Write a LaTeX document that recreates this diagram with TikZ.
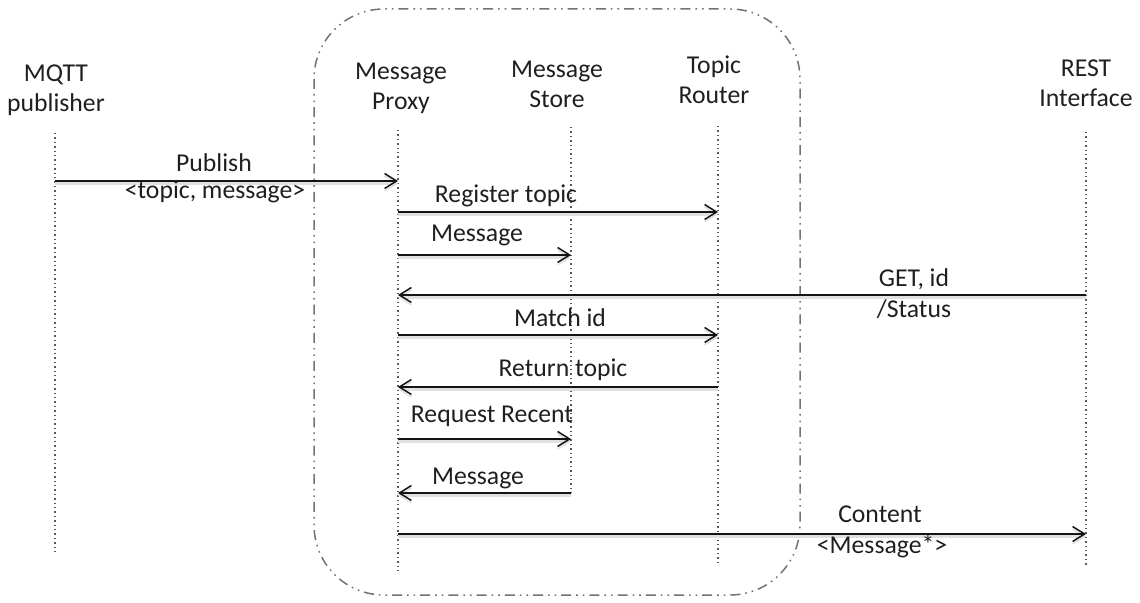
\documentclass[tikz,border=0pt]{standalone}
\usepackage{fontspec}
\setmainfont{Carlito}
\usetikzlibrary{arrows.meta}
\begin{document}
\begin{tikzpicture}[x=0.5pt,y=-0.5pt,
  lbl/.style={font=\fontsize{12.85}{15}\selectfont, inner sep=0pt, text=black!88, anchor=base},
  head/.style={lbl, align=center},
  life/.style={draw=black!65, line width=0.7pt, dash pattern=on 0.7pt off 1.5pt},
  msg/.style={draw=black!92, line width=0.75pt,
    -{Straight Barb[length=6pt,width=7.5pt,line width=0.75pt]},
    preaction={draw=black!12, line width=1.6pt, transform canvas={yshift=-1.2pt}}},
  frame/.style={draw=black!55, line width=0.75pt, rounded corners=35pt,
    dash pattern=on 5pt off 2.5pt on 0.8pt off 2.5pt on 0.8pt off 2.5pt}]
\useasboundingbox (0,0) rectangle (1140,603);

% boundary of the proxy subsystem
\draw[frame] (314,9) rectangle (800,595);

% headers (anchor = baseline of the last line)
\node[head] (hmqtt)   at (56,112)   {MQTT\\publisher};
\node[head] (hproxy)  at (401,110)  {Message\\Proxy};
\node[head] (hstore)  at (557,108)  {Message\\Store};
\node[head] (hrouter) at (714,104)  {Topic\\Router};
\node[head] (hrest)   at (1086,107) {REST\\Interface};

% lifelines
\coordinate (mqtt)   at (55,133);   \coordinate (mqttE)   at (55,555);
\coordinate (proxy)  at (398,130);  \coordinate (proxyE)  at (398,572);
\coordinate (store)  at (571,127);  \coordinate (storeE)  at (571,493);
\coordinate (router) at (718,126);  \coordinate (routerE) at (718,565);
\coordinate (rest)   at (1086,132); \coordinate (restE)   at (1086,567);
\draw[life] (mqtt) -- (mqttE);
\draw[life] (proxy) -- (proxyE);
\draw[life] (store) -- (storeE);
\draw[life] (router) -- (routerE);
\draw[life] (rest) -- (restE);

% message levels
\coordinate (m1) at (0,181);
\coordinate (m2) at (0,212);
\coordinate (m3) at (0,255);
\coordinate (m4) at (0,295);
\coordinate (m5) at (0,335);
\coordinate (m6) at (0,387);
\coordinate (m7) at (0,439);
\coordinate (m8) at (0,493);
\coordinate (m9) at (0,534);

\draw[msg] (mqtt |- m1) -- (proxy |- m1);
\draw[msg] (proxy |- m2) -- (router |- m2);
\draw[msg] (proxy |- m3) -- (store |- m3);
\draw[msg] (rest |- m4) -- (proxy |- m4);
\draw[msg] (proxy |- m5) -- (router |- m5);
\draw[msg] (router |- m6) -- (proxy |- m6);
\draw[msg] (proxy |- m7) -- (store |- m7);
\draw[msg] (store |- m8) -- (proxy |- m8);
\draw[msg] (proxy |- m9) -- (rest |- m9);

% message labels
\node[lbl] (l1a) at (214,172) {Publish};
\node[lbl] (l1b) at (215,199) {<topic, message>};
\node[lbl] (l2)  at (506,203) {Register topic};
\node[lbl] (l3)  at (477,242) {Message};
\node[lbl] (l4a) at (914,287) {GET, id};
\node[lbl] (l4b) at (914,318) {/Status};
\node[lbl] (l5)  at (560,327) {Match id};
\node[lbl] (l6)  at (563,377) {Return topic};
\node[lbl] (l7)  at (492,423) {Request Recent};
\node[lbl] (l8)  at (478,485) {Message};
\node[lbl] (l9a) at (880,523) {Content};
\node[lbl] (l9b) at (882,553) {<Message*>};
\end{tikzpicture}
\end{document}
